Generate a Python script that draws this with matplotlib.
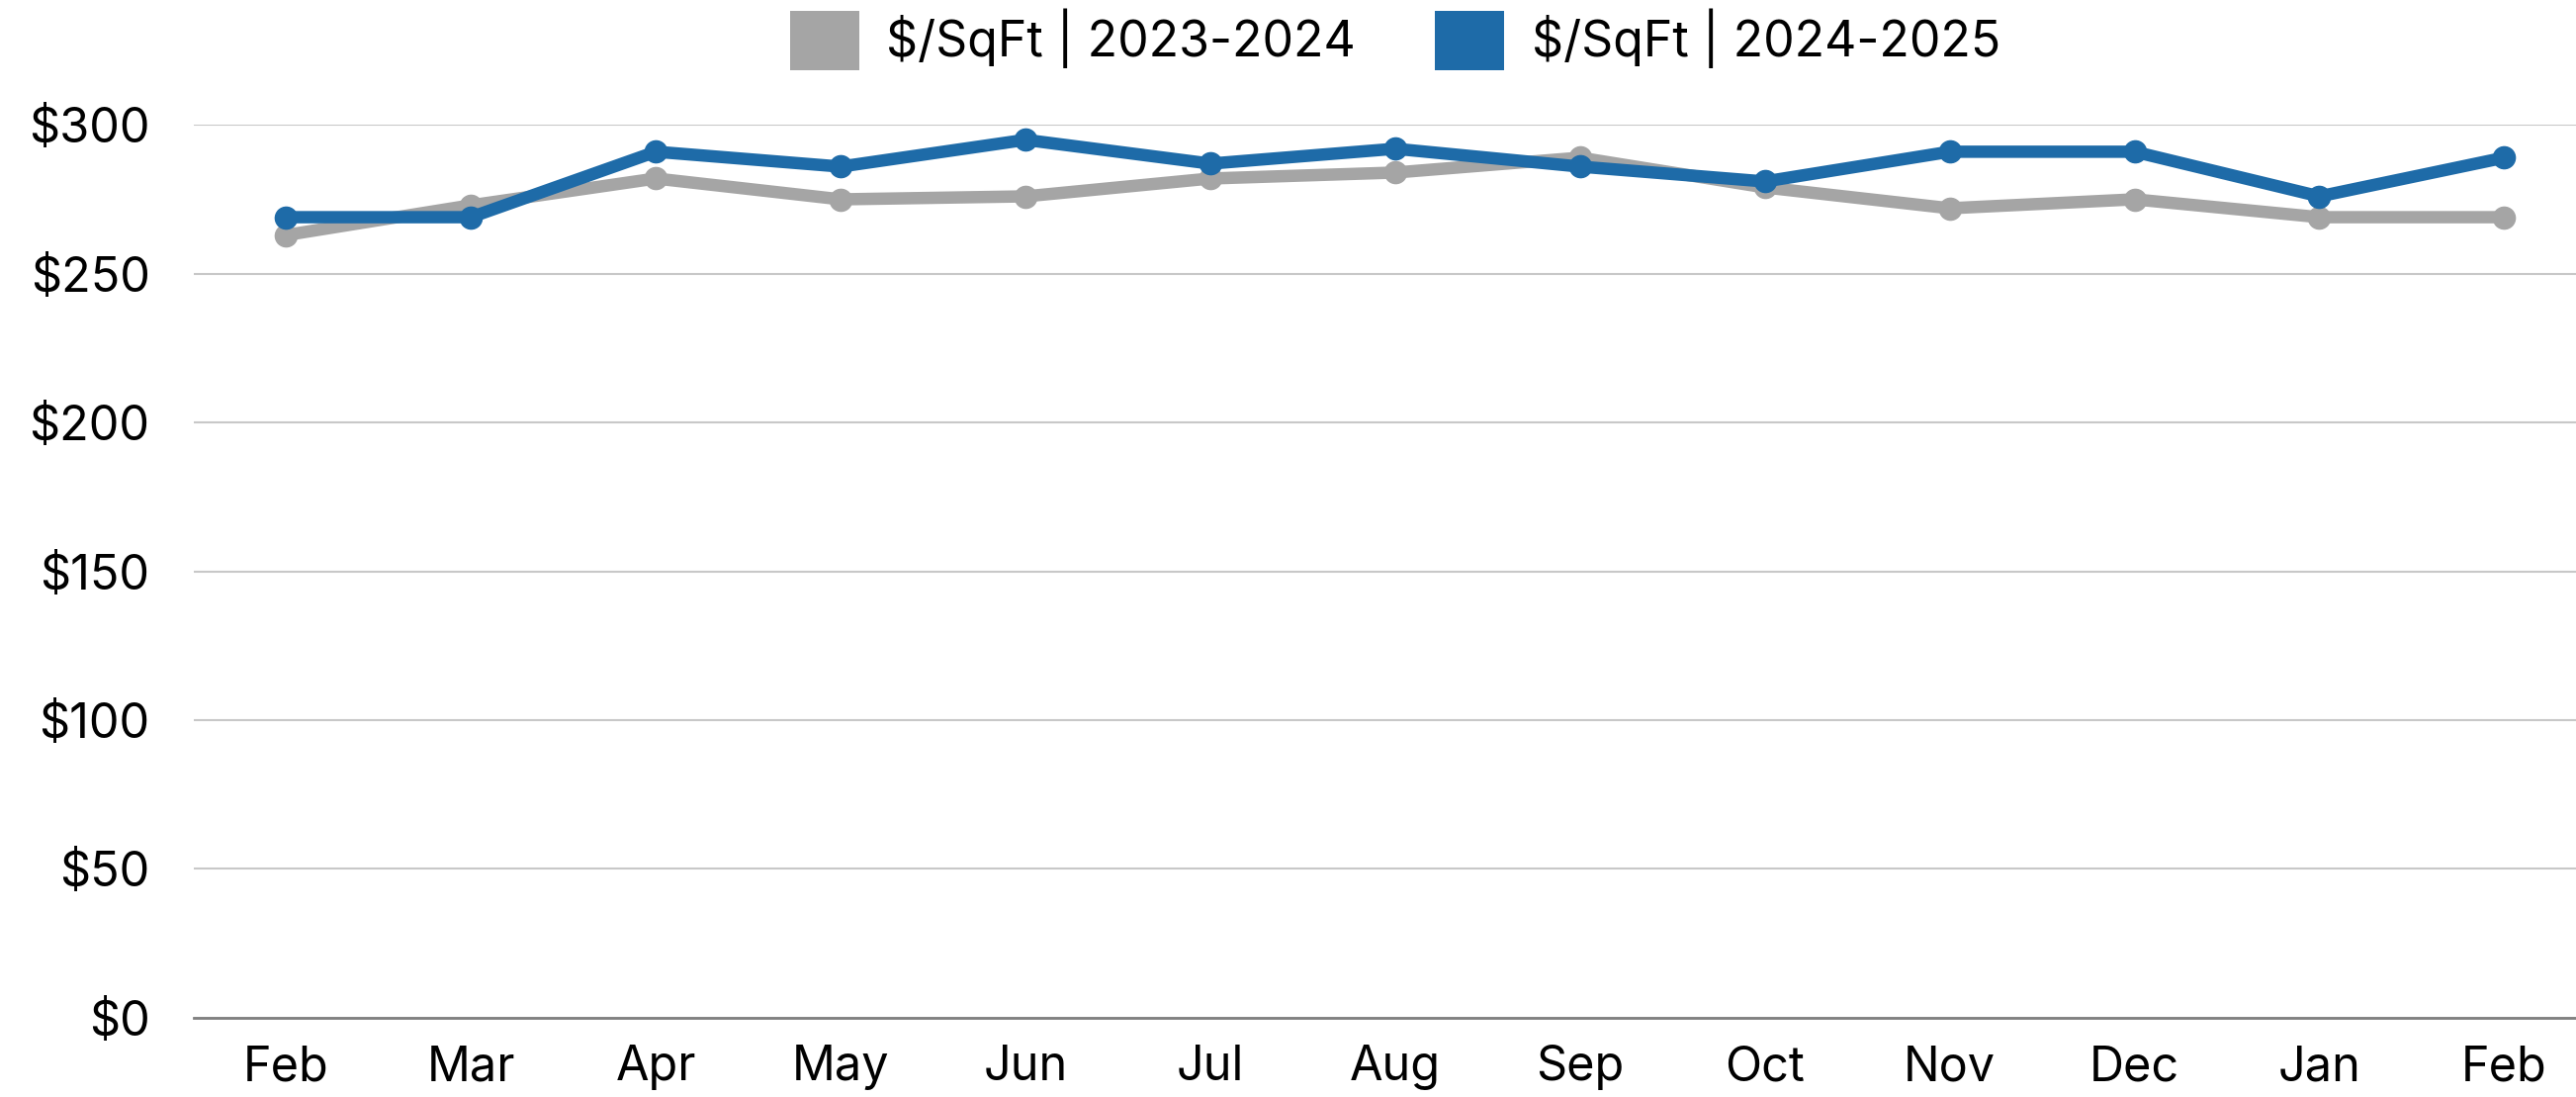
import matplotlib
matplotlib.use("Agg")
import matplotlib.pyplot as plt
from matplotlib.patches import Patch
from matplotlib.ticker import FuncFormatter, MultipleLocator

plt.rcParams["font.family"] = ["Inter", "DejaVu Sans"]

months = ["Feb", "Mar", "Apr", "May", "Jun", "Jul", "Aug",
          "Sep", "Oct", "Nov", "Dec", "Jan", "Feb"]
sqft_2324 = [263, 273, 282, 275, 276, 282, 284, 289, 279, 272, 275, 269, 269]
sqft_2425 = [269, 269, 291, 286, 295, 287, 292, 286, 281, 291, 291, 276, 289]
labels = ["$/SqFt | 2023-2024", "$/SqFt | 2024-2025"]

gray = "#A5A5A5"
blue = "#1E6BA8"

fig = plt.figure(figsize=(26.05, 11.09), dpi=100)
ax = fig.add_axes([0.0752, 0.0724, 0.9328, 0.8137])

x = list(range(len(months)))
ax.plot(x, sqft_2324, color=gray, lw=9, marker="o", ms=16,
        solid_capstyle="round", zorder=3)
ax.plot(x, sqft_2425, color=blue, lw=9, marker="o", ms=16,
        solid_capstyle="round", zorder=4)

ax.set_xlim(-0.5, len(months) - 0.5)
ax.set_ylim(0, 300)
ax.yaxis.set_major_locator(MultipleLocator(50))
ax.yaxis.set_major_formatter(FuncFormatter(lambda v, p: f"${v:.0f}"))
ax.set_xticks(x)
ax.set_xticklabels(months)

ax.grid(axis="y", color="#C8C8C8", lw=1.5, zorder=0)
ax.set_axisbelow(True)
for s in ["top", "right", "left"]:
    ax.spines[s].set_visible(False)
ax.spines["bottom"].set_color("#808080")
ax.spines["bottom"].set_linewidth(2)
ax.tick_params(axis="both", length=0, labelsize=35, colors="black")
ax.tick_params(axis="y", pad=32)
ax.tick_params(axis="x", pad=20)

handles = [Patch(facecolor=gray, edgecolor="none"),
           Patch(facecolor=blue, edgecolor="none")]
ax.legend(handles, labels, loc="upper center", bbox_to_anchor=(0.5, 1.18),
          ncol=2, frameon=False, fontsize=36, handlelength=1.4,
          handleheight=1.45, handletextpad=0.55, columnspacing=1.6)

fig.savefig("out.png", dpi=100)
